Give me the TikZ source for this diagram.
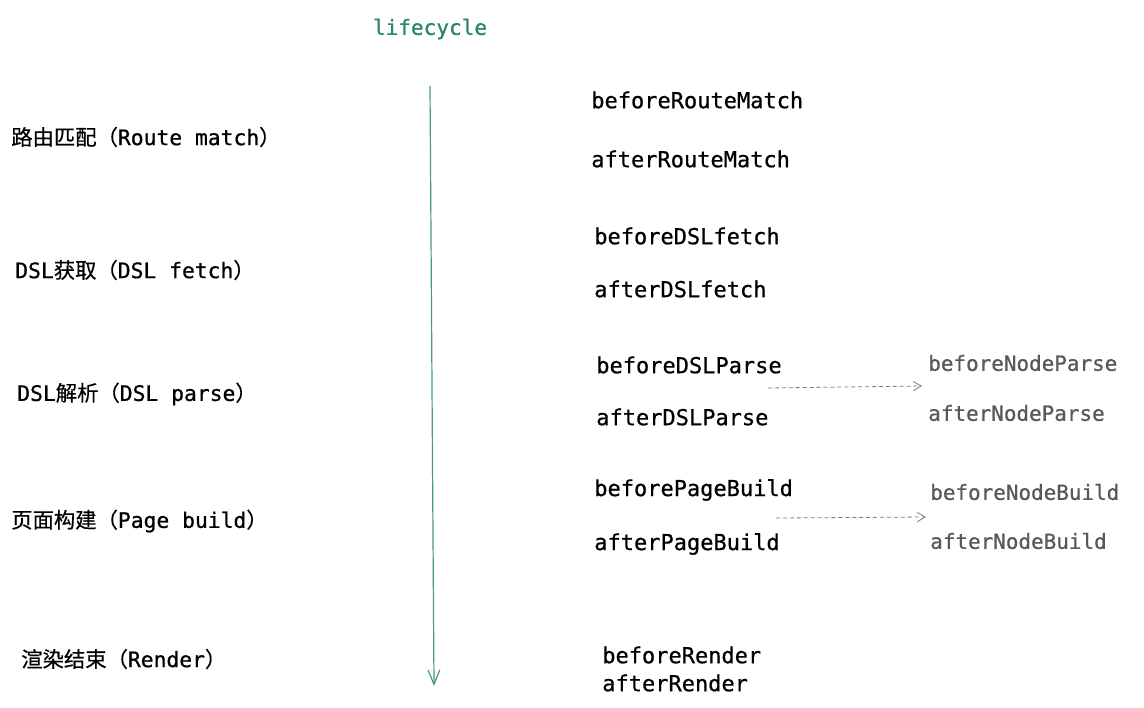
\documentclass[tikz,border=0pt]{standalone}
\usepackage{fontspec}
\setmainfont{DejaVu Sans Mono}
\newfontfamily\monomed[FakeBold=0.7]{DejaVu Sans Mono}
\newfontfamily\cjk[FakeBold=0.5]{Noto Sans CJK SC}
\usetikzlibrary{arrows.meta}
\definecolor{lifegreen}{RGB}{42,135,100}
\definecolor{hookgray}{RGB}{85,88,92}
\definecolor{dashgray}{RGB}{125,125,125}
\tikzset{
  stage/.style={anchor=west, inner sep=0.75pt, font=\monomed\fontsize{16}{19}\selectfont},
  hook/.style={anchor=west, inner sep=0.75pt, font=\monomed\fontsize{16.5}{19}\selectfont},
  subhook/.style={anchor=west, inner sep=0.75pt, text=hookgray, font=\monomed\fontsize{15.7}{19}\selectfont},
}
\begin{document}
\begin{tikzpicture}[x=0.75pt,y=0.75pt,yscale=-1,xscale=1]
\useasboundingbox (0,0) rectangle (1144,707);

%Title
\draw (430,29) node [inner sep=0.75pt, text=lifegreen, font=\monomed\fontsize{15.8}{19}\selectfont] (title) {lifecycle};
%Time line
\coordinate (lineTop) at (430,86);
\coordinate (lineEnd) at (434,686);
\draw [color=lifegreen!85, line width=0.9pt, -{Straight Barb[length=11pt,width=9pt]}] (lineTop) -- (lineEnd);

%Stages
\draw (10,137) node [stage] (route) {{\cjk 路由匹配（}Route match{\cjk ）}};
\draw (14,270) node [stage] (fetch) {DSL{\cjk 获取（}DSL fetch{\cjk ）}};
\draw (16,394) node [stage] (parse) {DSL{\cjk 解析（}DSL parse{\cjk ）}};
\draw (10,521) node [stage] (build) {{\cjk 页面构建（}Page build{\cjk ）}};
\draw (20,659) node [stage] (render) {{\cjk 渲染结束（}Render{\cjk ）}};

%Hooks
\draw (590,100) node [hook] (beforeRouteMatch) {beforeRouteMatch};
\draw (590,159) node [hook] (afterRouteMatch) {afterRouteMatch};
\draw (593,236) node [hook] (beforeDSLfetch) {beforeDSLfetch};
\draw (593,289) node [hook] (afterDSLfetch) {afterDSLfetch};
\draw (595,365) node [hook] (beforeDSLParse) {beforeDSLParse};
\draw (595,417) node [hook] (afterDSLParse) {afterDSLParse};
\draw (593,490) node [hook] (beforePageBuild) {beforePageBuild};
\draw (593,544) node [hook] (afterPageBuild) {afterPageBuild};
\draw (601,655) node [hook] (beforeRender) {beforeRender};
\draw (601,683) node [hook] (afterRender) {afterRender};

%Node hooks
\draw (927,363) node [subhook] (beforeNodeParse) {beforeNodeParse};
\draw (927,413) node [subhook] (afterNodeParse) {afterNodeParse};
\draw (929,492) node [subhook] (beforeNodeBuild) {beforeNodeBuild};
\draw (929,541) node [subhook] (afterNodeBuild) {afterNodeBuild};

%Dashed links
\coordinate (parseFrom) at (768,388);
\coordinate (parseTo) at (922,386);
\coordinate (buildFrom) at (776,518);
\coordinate (buildTo) at (926,517);
\draw [color=dashgray, line width=0.6pt, dash pattern=on 3pt off 2.2pt, -{Straight Barb[length=6pt,width=7pt]}] (parseFrom) -- (parseTo);
\draw [color=dashgray, line width=0.6pt, dash pattern=on 3pt off 2.2pt, -{Straight Barb[length=6pt,width=7pt]}] (buildFrom) -- (buildTo);
\end{tikzpicture}
\end{document}
